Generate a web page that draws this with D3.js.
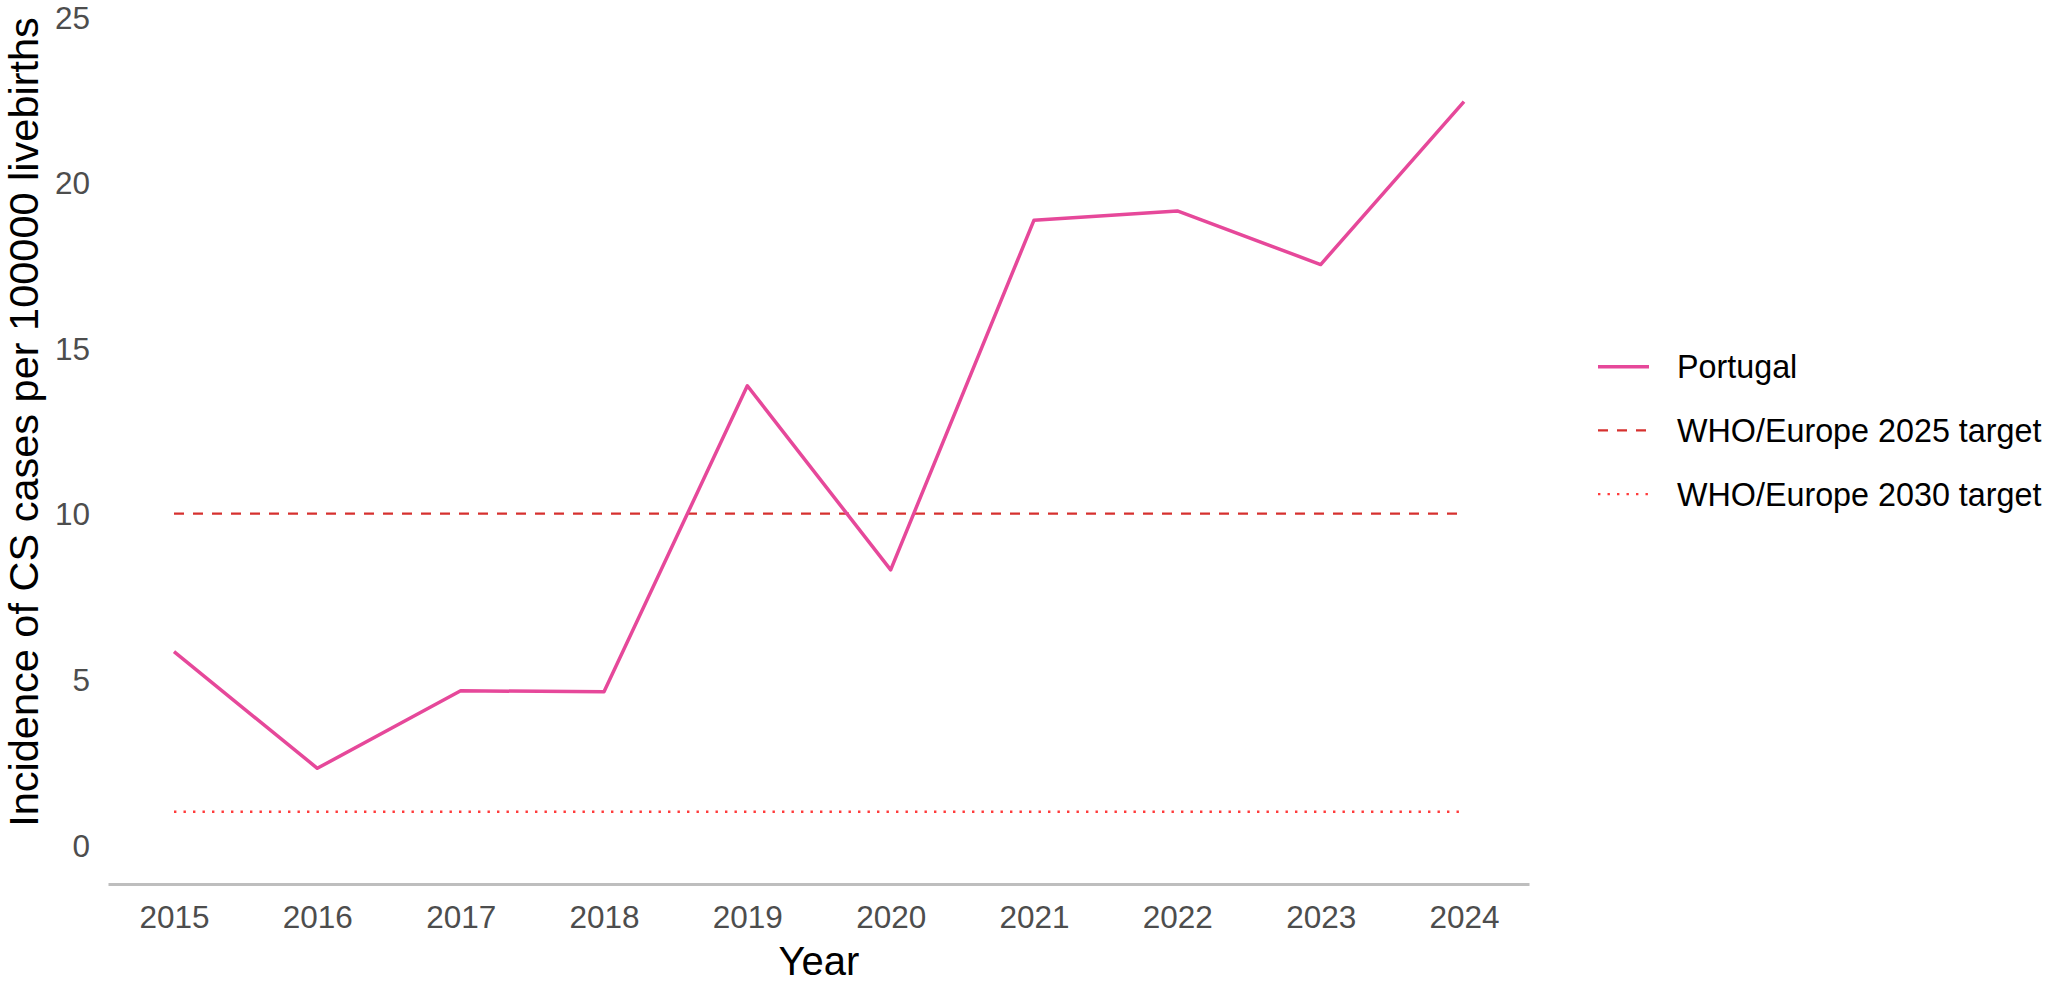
<!DOCTYPE html>
<html>
<head>
<meta charset="utf-8">
<script src="https://cdn.jsdelivr.net/npm/d3@7"></script>
<style>
  body { margin: 0; background: #fff; }
  svg { display: block; font-family: "Liberation Sans", Arial, Helvetica, sans-serif; }
</style>
</head>
<body>
<script>
// data
const years = [2015, 2016, 2017, 2018, 2019, 2020, 2021, 2022, 2023, 2024];
const portugal = [5.83, 2.31, 4.65, 4.62, 13.86, 8.30, 18.86, 19.14, 17.52, 22.44];
const yTicks = [0, 5, 10, 15, 20, 25];
const target2025 = 10;
const target2030 = 1;
const legendLabels = ["Portugal", "WHO/Europe 2025 target", "WHO/Europe 2030 target"];

const W = 2049, H = 982;

const svg = d3.select("body").append("svg")
    .attr("width", W)
    .attr("height", H);

let x = d3.scaleLinear()
    .domain([2015, 2024])
    .range([174, 1464]);

let y = d3.scaleLinear()
    .domain([0, 25])
    .range([844.8, 16.8]);

// bottom axis line only
svg.append("line")
    .attr("x1", x(2015 - 0.457))
    .attr("x2", x(2024 + 0.457))
    .attr("y1", y(-1.2))
    .attr("y2", y(-1.2))
    .attr("stroke", "#bebebe")
    .attr("stroke-width", 3);

let xAxis = d3.axisBottom(x)
    .tickValues(years)
    .tickFormat(d3.format("d"))
    .tickSize(0)
    .tickPadding(0);

let gx = svg.append("g")
    .attr("transform", "translate(0,928)")
    .call(xAxis);
gx.select(".domain").remove();
gx.selectAll("text")
    .attr("dy", 0)
    .attr("fill", "#4d4d4d")
    .style("font-size", "31.5px");

let yAxis = d3.axisLeft(y)
    .tickValues(yTicks)
    .tickSize(0)
    .tickPadding(0);

let gy = svg.append("g")
    .attr("transform", "translate(90,0)")
    .call(yAxis);
gy.select(".domain").remove();
gy.selectAll("text")
    .attr("dy", "0.36em")
    .attr("fill", "#4d4d4d")
    .style("font-size", "31.5px");

// target lines
svg.append("line")
    .attr("x1", x(2015)).attr("x2", x(2024))
    .attr("y1", y(target2025)).attr("y2", y(target2025))
    .attr("stroke", "#d6312f")
    .attr("stroke-width", 2.2)
    .attr("stroke-dasharray", "10,9");

svg.append("line")
    .attr("x1", x(2015)).attr("x2", x(2024))
    .attr("y1", y(target2030)).attr("y2", y(target2030))
    .attr("stroke", "#ff3b3b")
    .attr("stroke-width", 2.4)
    .attr("stroke-dasharray", "2.4,7.1");

// Portugal series
let line = d3.line()
    .x((d, i) => x(years[i]))
    .y(d => y(d));

svg.append("path")
    .datum(portugal)
    .attr("d", line)
    .attr("fill", "none")
    .attr("stroke", "#e6489a")
    .attr("stroke-width", 3.5)
    .attr("stroke-linejoin", "round");

// axis titles
svg.append("text")
    .attr("x", (x(2015) + x(2024)) / 2)
    .attr("y", 975)
    .attr("text-anchor", "middle")
    .style("font-size", "40px")
    .attr("fill", "#000")
    .text("Year");

svg.append("text")
    .attr("transform", "translate(38," + (17 + 810 / 2) + ") rotate(-90)")
    .attr("text-anchor", "middle")
    .style("font-size", "41.5px")
    .attr("fill", "#000")
    .text("Incidence of CS cases per 100000 livebirths");

// legend
const legendStyles = [
    { color: "#e6489a", width: 3.5, dash: null },
    { color: "#d6312f", width: 2.2, dash: "10,9" },
    { color: "#ff3b3b", width: 2.4, dash: "2.4,7.1" }
];

let legend = svg.append("g")
    .attr("transform", "translate(1598,366.7)");

let item = legend.selectAll("g")
    .data(legendLabels)
    .join("g")
    .attr("transform", (d, i) => "translate(0," + i * 63.7 + ")");

item.append("line")
    .attr("x1", 0).attr("x2", 51)
    .attr("stroke", (d, i) => legendStyles[i].color)
    .attr("stroke-width", (d, i) => legendStyles[i].width)
    .attr("stroke-dasharray", (d, i) => legendStyles[i].dash);

item.append("text")
    .attr("x", 79)
    .attr("dy", "0.36em")
    .style("font-size", "32.3px")
    .attr("fill", "#000")
    .text(d => d);
</script>
</body>
</html>
